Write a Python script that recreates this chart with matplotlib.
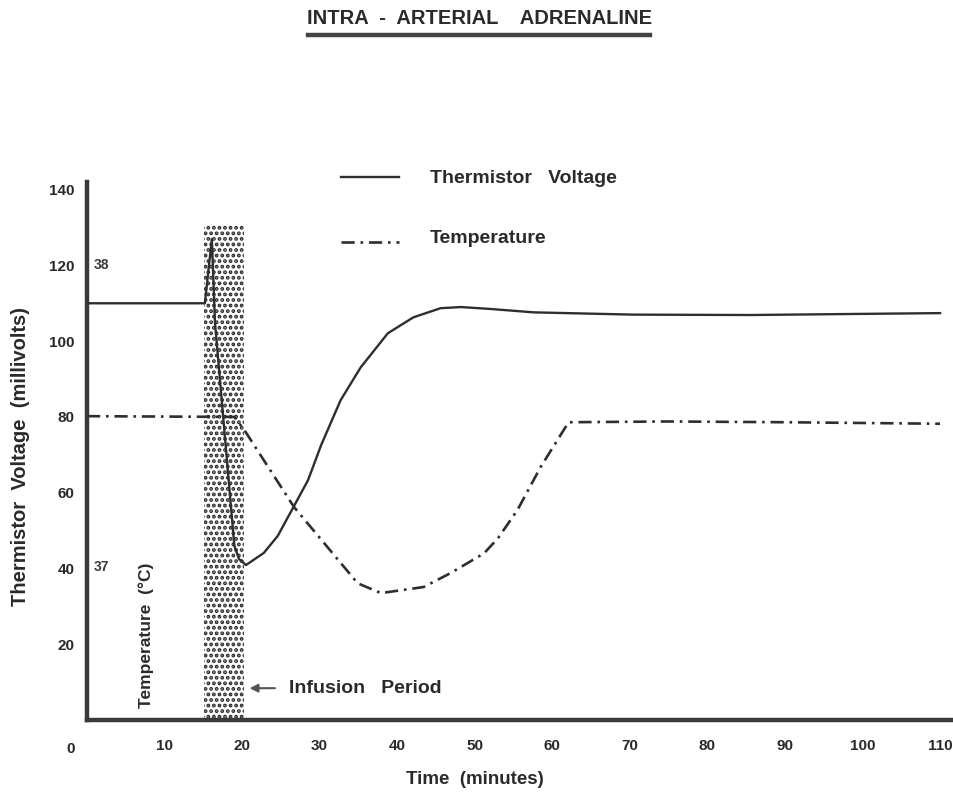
import matplotlib.pyplot as plt
from matplotlib.lines import Line2D

plt.rcParams['font.family'] = ['Liberation Sans', 'DejaVu Sans']
plt.rcParams['font.weight'] = 'bold'
plt.rcParams['hatch.color'] = '#2a2a2a'
plt.rcParams['hatch.linewidth'] = 1.9

# thermistor voltage (mV) against time (min)
volt_t = [0, 15.2, 16.1, 16.5, 19.0, 19.6, 20.5, 22.8, 24.6, 26.3, 28.5, 30.2,
          32.7, 35.3, 38.8, 42.1, 45.6, 48.2, 52.0, 57.6, 70.5, 85.6, 100.0,
          110.0]
volt_mv = [110, 110, 127, 105, 46, 42.5, 40.9, 44.1, 48.6, 55.0, 63.3, 72.6,
           84.4, 93.1, 102.1, 106.3, 108.7, 109, 108.5, 107.6, 107, 106.9,
           107.2, 107.4]

# temperature trace, drawn on the same millivolt scale
temp_t = [0, 19.0, 20.3, 26.7, 34.9, 37.9, 43.4, 46.9, 51.2, 53.0, 55.5, 58.5,
          62.1, 75.0, 90.0, 110.0]
temp_mv = [80.2, 80.0, 76.5, 56.2, 36.1, 33.5, 35.1, 38.8, 44, 48, 55.4, 66.8,
           78.6, 78.8, 78.6, 78.2]

infusion_start, infusion_end, infusion_top = 15.1, 20.2, 131

x_ticks = [10, 20, 30, 40, 50, 60, 70, 80, 90, 100, 110]
y_ticks = [20, 40, 60, 80, 100, 120, 140]
temp_marks = [(120, '38'), (40.4, '37')]

ink = '#2e2e2e'
txt = '#2a2a2a'

fig = plt.figure(figsize=(9.54, 7.97), dpi=100)
ax = fig.add_axes([0.0912, 0.0966, 0.9088, 0.675])
ax.set_xlim(0, 111.8)
ax.set_ylim(0, 142)

for side in ['top', 'right']:
    ax.spines[side].set_visible(False)
for side in ['left', 'bottom']:
    ax.spines[side].set_linewidth(3.2)
    ax.spines[side].set_color('#3a3a3a')

# infusion period, stippled
ax.fill_between([infusion_start, infusion_end], 0, infusion_top,
                facecolor='white', edgecolor='none', hatch='...', zorder=1)

ax.plot(volt_t, volt_mv, color=ink, lw=1.7, zorder=3)
temp_line, = ax.plot(temp_t, temp_mv, color=ink, lw=1.9, zorder=3)
temp_line.set_dashes([5, 2.2, 1, 2.2])

ax.set_xticks(x_ticks)
ax.set_yticks(y_ticks)
ax.tick_params(length=0, labelsize=11, colors=txt)
ax.tick_params(axis='x', pad=14)
ax.tick_params(axis='y', pad=9)
ax.text(-2.1, -0.04, '0', transform=ax.get_xaxis_transform(), ha='center',
        va='top', fontsize=11, color=txt, clip_on=False)

for yv, lab in temp_marks:
    ax.text(0.8, yv, lab, ha='left', va='center', fontsize=10, color='#3a3a3a')

ax.text(7.6, 22.4, 'Temperature  (°C)', rotation=90, ha='center', va='center',
        fontsize=12.5, color=txt)

ax.set_ylabel('Thermistor  Voltage  (millivolts)', fontsize=14.5,
              fontweight='bold', color=txt)
ax.yaxis.set_label_coords(-0.066, 0.49)
ax.text(50.0, -0.11, 'Time  (minutes)', transform=ax.get_xaxis_transform(),
        ha='center', va='center', fontsize=13.5, color=txt, clip_on=False)

# infusion arrow
ax.annotate('', xy=(20.6, 8.4), xytext=(24.6, 8.4),
            arrowprops=dict(arrowstyle='-|>', color='#555555', lw=1.5,
                            mutation_scale=12))
ax.text(26.0, 8.4, 'Infusion   Period', ha='left', va='center', fontsize=14,
        color=txt)

# key
ax.add_line(Line2D([32.7, 40.2], [143.3, 143.3], color=ink, lw=1.7,
                   clip_on=False))
key_temp = Line2D([32.7, 40.2], [126.3, 126.3], color=ink, lw=1.9,
                  clip_on=False)
key_temp.set_dashes([5, 2.2, 1, 2.2])
ax.add_line(key_temp)
ax.text(44.2, 143.0, 'Thermistor   Voltage', ha='left', va='center',
        fontsize=14, color=txt, clip_on=False)
ax.text(44.2, 127.0, 'Temperature', ha='left', va='center', fontsize=14,
        color=txt, clip_on=False)

# underlined heading
fig.text(0.503, 0.977, 'INTRA  -  ARTERIAL    ADRENALINE', ha='center',
         va='center', fontsize=14.5, color=txt)
fig.add_artist(Line2D([0.323, 0.681], [0.956, 0.956], color='#444444', lw=3.2,
                      transform=fig.transFigure))

fig.savefig('out.png', dpi=100)
